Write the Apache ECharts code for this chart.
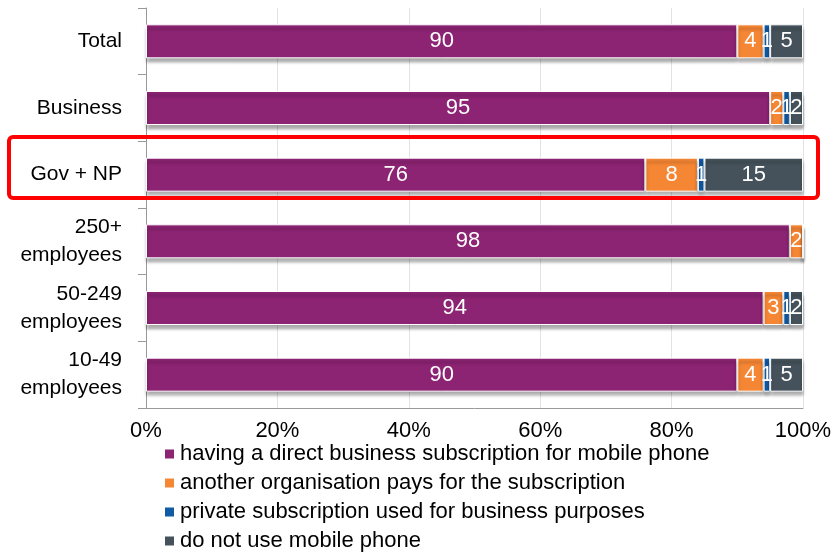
<!DOCTYPE html>
<html><head><meta charset="utf-8">
<script src="https://cdn.jsdelivr.net/npm/echarts@6/dist/echarts.min.js"></script>
<style>html,body{margin:0;padding:0;background:#fff}#c{width:831px;height:552px}</style>
</head><body><div id="c"></div>
<script>
var categories = ['Total','Business','Gov + NP','250+\nemployees','50-249\nemployees','10-49\nemployees'];
var seriesNames = ['having a direct business subscription for mobile phone','another organisation pays for the subscription','private subscription used for business purposes','do not use mobile phone'];
var direct = [90,95,76,98,94,90];
var another = [4,2,8,2,3,4];
var privateSub = [1,1,1,0,1,1];
var notUse = [5,2,15,0,2,5];
var xTicks = [0,20,40,60,80,100];
var colors = ['#8C2373','#F58634','#0F5BA5','#45525B'];

var chart = echarts.init(document.getElementById('c'));
var font = 'Liberation Sans, Arial, sans-serif';
var all = [direct, another, privateSub, notUse];
var series = all.map(function(d,i){
  return {
    name: seriesNames[i], type:'bar', stack:'s', barWidth:34,
    data: d,
    itemStyle:{color:colors[i], borderColor:'#fff', borderWidth:1,
      shadowColor:'rgba(0,0,0,0.35)', shadowBlur:3, shadowOffsetY:4},
    label:{show:true, position:'inside', color:'#fff', fontSize:22, fontFamily:font,
      formatter:function(p){return p.value>0?p.value:'';}},
    emphasis:{disabled:true}
  };
});
chart.setOption({
  animation:false,
  color: colors,
  grid:{left:146, right:28, top:8, bottom:144, containLabel:false, outerBoundsMode:'none'},
  legend:{orient:'vertical', left:158, top:438, height:120, width:700, itemGap:7, itemWidth:11, itemHeight:11, icon:'rect',
    textStyle:{fontSize:22, fontFamily:font, color:'#000'}, data:seriesNames},
  xAxis:{type:'value', min:0, max:100, interval:20,
    axisLabel:{formatter:'{value}%', fontSize:22, fontFamily:font, color:'#000', margin:12},
    axisLine:{show:true, lineStyle:{color:'#999'}},
    axisTick:{show:false},
    splitLine:{show:true, lineStyle:{color:'#e3e3e3'}}},
  yAxis:{type:'category', inverse:true, data:categories,
    axisLabel:{fontSize:21, fontFamily:font, color:'#000', margin:24, lineHeight:28, align:'right'},
    axisLine:{show:true, lineStyle:{color:'#999', width:1}},
    axisTick:{show:true, length:8, inside:false, lineStyle:{color:'#999'}}},
  series: series,
  graphic:[{type:'rect', shape:{x:9, y:137, width:809, height:61, r:4},
    style:{fill:'none', stroke:'#FF0000', lineWidth:4}, z:100}]
});
</script></body></html>
